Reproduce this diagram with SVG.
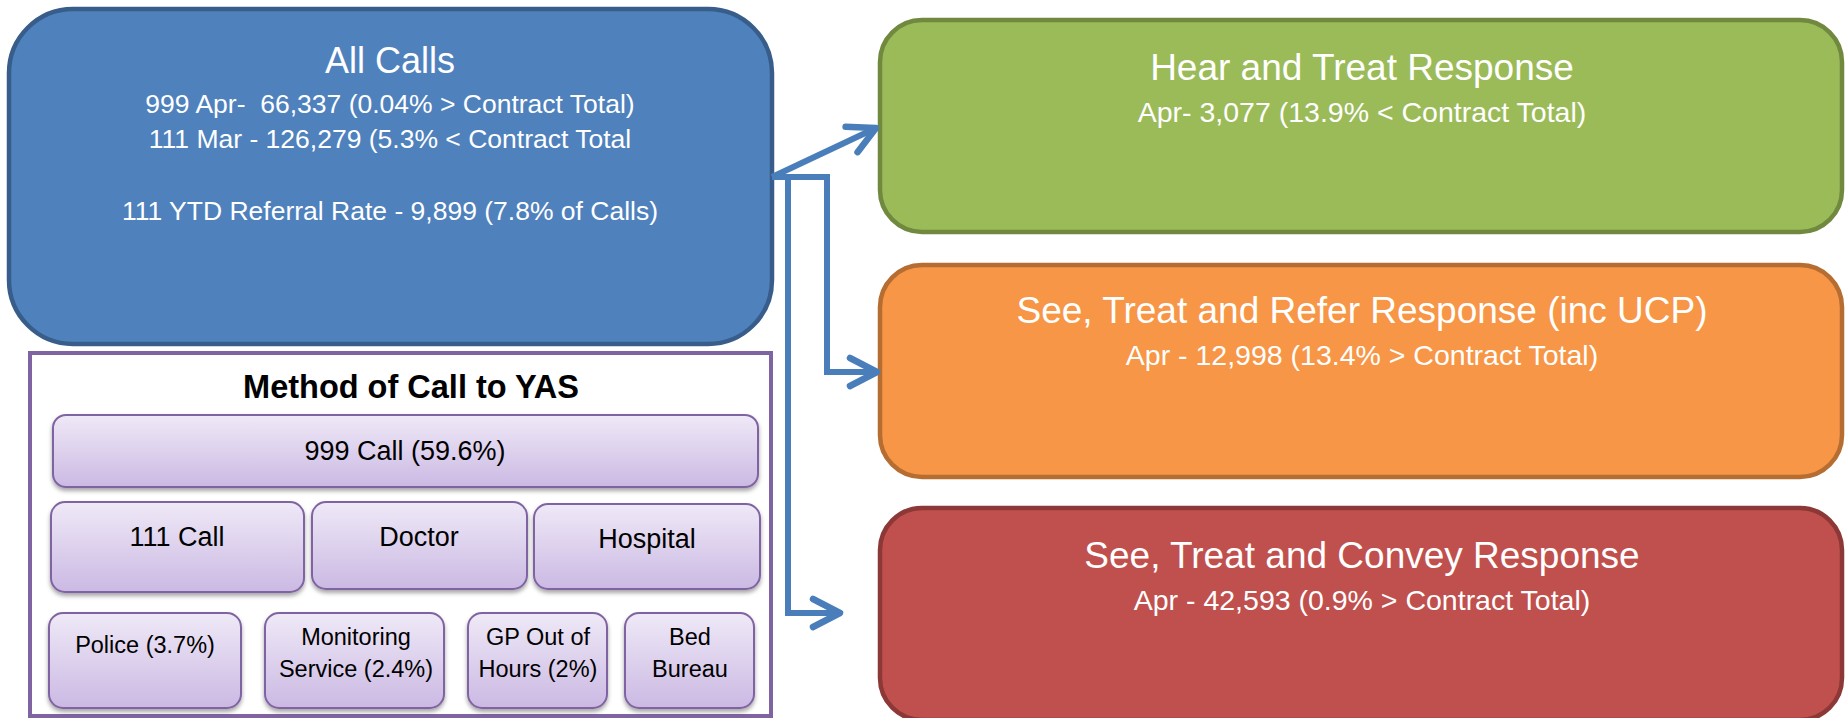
<svg xmlns="http://www.w3.org/2000/svg" width="1845" height="718" viewBox="0 0 1845 718">
<style>
  .big { stroke-width: 4.5; }
  .wt { fill: #FFFFFF; font-family: "Liberation Sans", Arial, sans-serif; text-anchor: middle; }
  .bk { fill: #000000; font-family: "Liberation Sans", Arial, sans-serif; text-anchor: middle; }
  .sm { fill: url(#lav); stroke: #8064A2; stroke-width: 2; filter: url(#shadow); }
  .conn { fill: none; stroke: #4A7EBB; stroke-width: 6; stroke-linejoin: miter; }
</style>
<defs>
  <linearGradient id="lav" x1="0" y1="0" x2="0" y2="1">
    <stop offset="0" stop-color="#EFE9F7"/>
    <stop offset="1" stop-color="#CBB9E3"/>
  </linearGradient>
  <filter id="shadow" x="-10%" y="-10%" width="120%" height="130%">
    <feDropShadow dx="0" dy="3" stdDeviation="2" flood-color="#000000" flood-opacity="0.35"/>
  </filter>
  <marker id="chev" markerUnits="userSpaceOnUse" markerWidth="40" markerHeight="40" refX="0" refY="0" orient="auto" style="overflow:visible">
    <path d="M-27,-14 L0,0 L-27,14" fill="none" stroke="#4A7EBB" stroke-width="6.5" stroke-linecap="round" stroke-linejoin="round"/>
  </marker>
</defs>
<rect width="1845" height="718" fill="#FFFFFF"/>

<g id="all-calls">
  <rect class="big" x="9" y="9" width="763" height="335" rx="64" ry="64" fill="#4F81BD" stroke="#385D8A"/>
  <text class="wt" x="390" y="73" font-size="36">All Calls</text>
  <text class="wt" x="390" y="113" font-size="26.5">999 Apr-&#160; 66,337 (0.04% &gt; Contract Total)</text>
  <text class="wt" x="390" y="148" font-size="26.5">111 Mar - 126,279 (5.3% &lt; Contract Total</text>
  <text class="wt" x="390" y="220" font-size="26.5">111 YTD Referral Rate - 9,899 (7.8% of Calls)</text>
</g>

<g id="method">
  <rect x="30" y="353" width="741" height="363" fill="#FFFFFF" stroke="#8064A2" stroke-width="4"/>
  <text class="bk" x="411" y="398" font-size="32.5" font-weight="bold">Method of Call to YAS</text>
</g>

<g id="m-999">
  <rect class="sm" x="53" y="415" width="705" height="72" rx="13"/>
  <text class="bk" x="405" y="460" font-size="27">999 Call (59.6%)</text>
</g>
<g id="m-111">
  <rect class="sm" x="51" y="502" width="253" height="90" rx="14"/>
  <text class="bk" x="177" y="546" font-size="27">111 Call</text>
</g>
<g id="m-doctor">
  <rect class="sm" x="312" y="502" width="215" height="87" rx="14"/>
  <text class="bk" x="419" y="546" font-size="27">Doctor</text>
</g>
<g id="m-hospital">
  <rect class="sm" x="534" y="504" width="226" height="85" rx="14"/>
  <text class="bk" x="647" y="548" font-size="27">Hospital</text>
</g>
<g id="m-police">
  <rect class="sm" x="49" y="613" width="192" height="95" rx="14"/>
  <text class="bk" x="145" y="653" font-size="23.5">Police (3.7%)</text>
</g>
<g id="m-monitoring">
  <rect class="sm" x="265" y="613" width="179" height="95" rx="14"/>
  <text class="bk" x="356" y="645" font-size="23.5">Monitoring</text>
  <text class="bk" x="356" y="677" font-size="23.5">Service (2.4%)</text>
</g>
<g id="m-gp">
  <rect class="sm" x="468" y="613" width="139" height="95" rx="14"/>
  <text class="bk" x="538" y="645" font-size="23.5">GP Out of</text>
  <text class="bk" x="538" y="677" font-size="23.5">Hours (2%)</text>
</g>
<g id="m-bed">
  <rect class="sm" x="625" y="613" width="129" height="95" rx="14"/>
  <text class="bk" x="690" y="645" font-size="23.5">Bed</text>
  <text class="bk" x="690" y="677" font-size="23.5">Bureau</text>
</g>

<g id="hear-treat">
  <rect class="big" x="880" y="20" width="962" height="212" rx="42" ry="42" fill="#9BBB59" stroke="#71893F"/>
  <text class="wt" x="1362" y="80" font-size="37">Hear and Treat Response</text>
  <text class="wt" x="1362" y="122" font-size="28.5">Apr- 3,077 (13.9% &lt; Contract Total)</text>
</g>

<g id="see-treat-refer">
  <rect class="big" x="880" y="265" width="962" height="212" rx="42" ry="42" fill="#F79646" stroke="#B66D31"/>
  <text class="wt" x="1362" y="323" font-size="37">See, Treat and Refer Response (inc UCP)</text>
  <text class="wt" x="1362" y="365" font-size="28.5">Apr - 12,998 (13.4% &gt; Contract Total)</text>
</g>

<g id="see-treat-convey">
  <rect class="big" x="880" y="508" width="962" height="212" rx="42" ry="42" fill="#C0504D" stroke="#8C3836"/>
  <text class="wt" x="1362" y="568" font-size="37">See, Treat and Convey Response</text>
  <text class="wt" x="1362" y="610" font-size="28.5">Apr - 42,593 (0.9% &gt; Contract Total)</text>
</g>

<g id="connectors">
  <path class="conn" d="M772,177 L876,128" marker-end="url(#chev)"/>
  <path class="conn" d="M772,177 H827 V372 H877" marker-end="url(#chev)"/>
  <path class="conn" d="M772,177 H788 V613 H840" marker-end="url(#chev)"/>
</g>
</svg>
